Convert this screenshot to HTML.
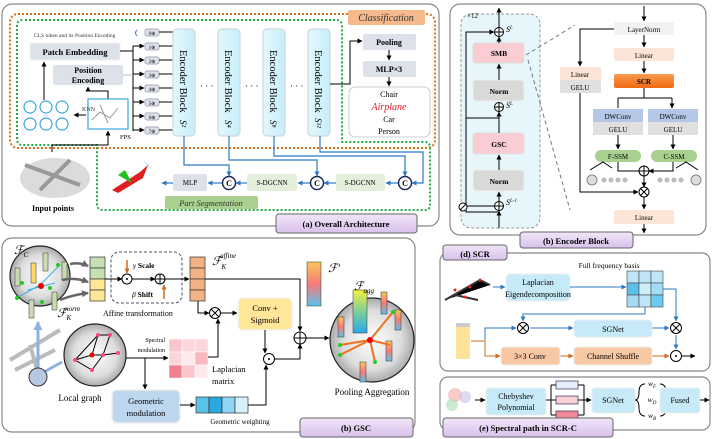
<!DOCTYPE html>
<html><head><meta charset="utf-8"><style>
html,body{margin:0;padding:0;background:#fff}
svg{display:block}
text{font-family:"Liberation Serif",serif}
</style></head><body>
<svg width="713" height="439" viewBox="0 0 713 439" xmlns="http://www.w3.org/2000/svg">
<defs>
<marker id="a" markerUnits="userSpaceOnUse" markerWidth="5" markerHeight="5" refX="4.5" refY="2.5" orient="auto"><path d="M0,0L5,2.5L0,5z" fill="#000"/></marker>
<marker id="ab" markerUnits="userSpaceOnUse" markerWidth="5" markerHeight="5" refX="4.5" refY="2.5" orient="auto"><path d="M0,0L5,2.5L0,5z" fill="#2f78c4"/></marker>
<marker id="ao" markerUnits="userSpaceOnUse" markerWidth="5" markerHeight="5" refX="4.5" refY="2.5" orient="auto"><path d="M0,0L5,2.5L0,5z" fill="#d06a1e"/></marker>
<marker id="ag" markerUnits="userSpaceOnUse" markerWidth="7" markerHeight="7" refX="6" refY="3.5" orient="auto"><path d="M0,0L7,3.5L0,7z" fill="#666"/></marker>
<marker id="abig" markerUnits="userSpaceOnUse" markerWidth="9" markerHeight="9" refX="8" refY="4.5" orient="auto"><path d="M0,0L9,4.5L0,9z" fill="#8fb1e0"/></marker>
<linearGradient id="enc" x1="0" x2="1"><stop offset="0" stop-color="#e4f8fd"/><stop offset="1" stop-color="#c6eefa"/></linearGradient>
<linearGradient id="fp" x1="0" y1="0" x2="0" y2="1"><stop offset="0" stop-color="#f7c65a"/><stop offset=".5" stop-color="#f77a7a"/><stop offset="1" stop-color="#5bc2ea"/></linearGradient>
<linearGradient id="fa" x1="0" y1="0" x2="0" y2="1"><stop offset="0" stop-color="#f5ef40"/><stop offset=".5" stop-color="#7ecf9a"/><stop offset="1" stop-color="#2aa8e8"/></linearGradient>
<linearGradient id="pur" x1="0" y1="0" x2="0" y2="1"><stop offset="0" stop-color="#f1e6f8"/><stop offset="1" stop-color="#d9c0ec"/></linearGradient>
<linearGradient id="scr" x1="0" y1="0" x2="0" y2="1"><stop offset="0" stop-color="#f99a4e"/><stop offset="1" stop-color="#ef6a12"/></linearGradient>
<radialGradient id="ball"><stop offset="0" stop-color="#fff"/><stop offset=".7" stop-color="#ddd"/><stop offset="1" stop-color="#aaa"/></radialGradient>
</defs>

<!-- ===== (a) Overall Architecture ===== -->
<rect x="2" y="4" width="437" height="222" rx="10" fill="#fff" stroke="#888" stroke-width="1.2"/>
<rect x="10" y="14" width="425" height="134" rx="8" fill="none" stroke="#d8701e" stroke-width="2" stroke-dasharray="2,2"/>
<path d="M25,20 H336 Q342,20 342,26 V142 H425 Q430,142 430,148 V205 Q430,210 425,210 H103 Q97,210 97,204 V145 H23 Q17,145 17,139 V26 Q17,20 23,20" fill="none" stroke="#22aa44" stroke-width="2" stroke-dasharray="2,2"/>
<rect x="348" y="10" width="77" height="15" rx="2" fill="#f5b98c"/>
<text x="386" y="21" font-size="10" font-style="italic" text-anchor="middle" fill="#333">Classification</text>
<text x="34" y="37" font-size="5.5" fill="#333">CLS token and its Position Encoding</text>
<rect x="30" y="43" width="90" height="17" rx="2" fill="#dde2ea" stroke="#eee"/>
<text x="75" y="55" font-size="8.5" text-anchor="middle" font-weight="bold">Patch Embedding</text>
<rect x="53" y="65" width="70" height="20" rx="2" fill="#dde2ea"/>
<text x="88" y="73" font-size="8" text-anchor="middle" font-weight="bold">Position</text>
<text x="88" y="83" font-size="8" text-anchor="middle" font-weight="bold">Encoding</text>
<line x1="44" y1="100" x2="44" y2="62" stroke="#000" marker-end="url(#a)"/>
<path d="M108,99 V91 H88 V87" fill="none" stroke="#000" marker-end="url(#a)"/>
<rect x="88" y="99" width="40" height="30" fill="#fff" stroke="#3aa8e0" stroke-width="1.2"/>
<path d="M92,120 L100,112 L110,118 L118,108 M100,105 L108,123" stroke="#999" stroke-width="1" fill="none"/>
<text x="82" y="111" font-size="6" fill="#333">KNN</text>
<line x1="86" y1="115" x2="74" y2="115" stroke="#000" marker-end="url(#a)"/>
<text x="120" y="139" font-size="6.5">FPS</text>
<path d="M52,152 V145 H108 V131" fill="none" stroke="#000" marker-end="url(#a)"/>
<g fill="#fff" stroke="#3aa8e0" stroke-width="1.2"><circle cx="30" cy="107" r="6"/><circle cx="46" cy="107" r="6"/><circle cx="62" cy="107" r="6"/><circle cx="30" cy="124" r="6"/><circle cx="46" cy="124" r="6"/><circle cx="62" cy="124" r="6"/></g>
<text x="46" y="117" font-size="5" text-anchor="middle">···</text>
<!-- tokens -->
<g font-size="5" text-anchor="middle">
<g fill="#dde2ea" stroke="#aab">
<rect x="145" y="29" width="14" height="7" rx="2"/><rect x="145" y="43" width="14" height="7" rx="2"/><rect x="145" y="57" width="14" height="7" rx="2"/><rect x="145" y="71" width="14" height="7" rx="2"/><rect x="145" y="85" width="14" height="7" rx="2"/><rect x="145" y="99" width="14" height="7" rx="2"/><rect x="145" y="113" width="14" height="7" rx="2"/><rect x="145" y="127" width="14" height="7" rx="2"/>
</g>
<text x="152" y="35">0⊕</text><text x="152" y="49">1⊕</text><text x="152" y="63">2⊕</text><text x="152" y="77">3⊕</text><text x="152" y="91">4⊕</text><text x="152" y="105">5⊕</text><text x="152" y="119">6⊕</text><text x="152" y="133">7⊕</text>
</g>
<path d="M137,30 Q134,33 137,36" fill="none" stroke="#3a7ad0"/>
<path d="M120,51 H133 M133,46 V131" stroke="#000" fill="none"/>
<g stroke="#000" marker-end="url(#a)"><line x1="133" y1="46" x2="144" y2="46"/><line x1="133" y1="60" x2="144" y2="60"/><line x1="133" y1="74" x2="144" y2="74"/><line x1="133" y1="88" x2="144" y2="88"/><line x1="133" y1="102" x2="144" y2="102"/><line x1="133" y1="116" x2="144" y2="116"/><line x1="133" y1="130" x2="144" y2="130"/></g>
<line x1="123" y1="75" x2="133" y2="75" stroke="#bbb"/>
<g stroke="#000"><line x1="159" y1="32" x2="173" y2="32"/><line x1="159" y1="46" x2="173" y2="46"/><line x1="159" y1="60" x2="173" y2="60"/><line x1="159" y1="74" x2="173" y2="74"/><line x1="159" y1="88" x2="173" y2="88"/><line x1="159" y1="102" x2="173" y2="102"/><line x1="159" y1="116" x2="173" y2="116"/><line x1="159" y1="130" x2="173" y2="130"/></g>
<!-- encoder blocks -->
<g fill="url(#enc)" stroke="#cfd8dc" stroke-width="1.2">
<rect x="173" y="29" width="22" height="107" rx="4"/><rect x="218" y="29" width="22" height="107" rx="4"/><rect x="263" y="29" width="22" height="107" rx="4"/><rect x="308" y="29" width="22" height="107" rx="4"/>
</g>
<g font-size="10.5">
<text transform="translate(180,50) rotate(90)">Encoder Block</text>
<text transform="translate(225,50) rotate(90)">Encoder Block</text>
<text transform="translate(270,50) rotate(90)">Encoder Block</text>
<text transform="translate(315,50) rotate(90)">Encoder Block</text>
</g>
<g font-size="9" font-style="italic"><text transform="translate(180,120) rotate(90)">S²</text><text transform="translate(225,120) rotate(90)">S⁴</text><text transform="translate(270,120) rotate(90)">S⁸</text><text transform="translate(315,118) rotate(90)">S¹²</text></g>
<g font-size="9"><text x="200" y="89">· · ·</text><text x="245" y="89">· · ·</text><text x="290" y="89">· · ·</text></g>
<path d="M330,84 H350 V41 H362" fill="none" stroke="#000" marker-end="url(#a)"/>
<rect x="363" y="34" width="53" height="16" rx="2" fill="#dde2ea"/>
<text x="389" y="45" font-size="8" text-anchor="middle" font-weight="bold">Pooling</text>
<line x1="389" y1="50" x2="389" y2="60" stroke="#000" marker-end="url(#a)"/>
<rect x="363" y="61" width="53" height="16" rx="2" fill="#dde2ea"/>
<text x="389" y="72" font-size="8" text-anchor="middle" font-weight="bold">MLP×3</text>
<line x1="389" y1="77" x2="389" y2="86" stroke="#000" marker-end="url(#a)"/>
<rect x="349" y="87" width="81" height="50" rx="6" fill="#fff" stroke="#ccc"/>
<g font-size="8" text-anchor="middle"><text x="389" y="97">Chair</text><text x="389" y="110" font-size="10" fill="#e8202a" font-style="italic" font-family="Liberation Sans">Airplane</text><text x="389" y="122">Car</text><text x="389" y="134">Person</text></g>
<!-- segmentation -->
<g fill="none" stroke="#2f78c4" stroke-width="1.2">
<path d="M184,136 V165 H229 V176" marker-end="url(#ab)"/>
<path d="M229,136 V160 H317 V176" marker-end="url(#ab)"/>
<path d="M274,136 V156 H405 V176" marker-end="url(#ab)"/>
<path d="M320,136 V152 H423 V183 H412" marker-end="url(#ab)"/>
<path d="M398,183 H386" marker-end="url(#ab)"/>
<path d="M336,183 H324" marker-end="url(#ab)"/>
<path d="M310,183 H298" marker-end="url(#ab)"/>
<path d="M247,183 H236" marker-end="url(#ab)"/>
<path d="M222,183 H208" marker-end="url(#ab)"/>
<path d="M173,183 H162" marker-end="url(#ab)"/>
</g>
<g fill="#fff" stroke="#1a2a5a" stroke-width="1.5">
<circle cx="229" cy="183" r="6.5"/><circle cx="317" cy="183" r="6.5"/><circle cx="405" cy="183" r="6.5"/>
</g>
<g font-size="8" font-weight="bold" text-anchor="middle"><text x="229" y="186">C</text><text x="317" y="186">C</text><text x="405" y="186">C</text></g>
<rect x="173" y="174" width="34" height="17" rx="2" fill="#dde2ea"/>
<text x="190" y="185" font-size="7" text-anchor="middle">MLP</text>
<rect x="247" y="174" width="50" height="17" rx="2" fill="#e3eedb"/>
<text x="272" y="185" font-size="7" text-anchor="middle">S-DGCNN</text>
<rect x="336" y="174" width="49" height="17" rx="2" fill="#e3eedb"/>
<text x="360" y="185" font-size="7" text-anchor="middle">S-DGCNN</text>
<path d="M112,190 L140,172 L148,165 L143,178 L118,193z" fill="#e02020"/>
<path d="M118,175 L132,183 L125,170z" fill="#20c020"/><path d="M143,160 L152,170 L147,164z" fill="#2030c0"/>
<rect x="165" y="196" width="93" height="13" rx="2" fill="#a9d08e"/>
<text x="211" y="206" font-size="8.5" font-style="italic" text-anchor="middle" fill="#333">Part Segmentation</text>
<ellipse cx="55" cy="178" rx="35" ry="20" fill="#ccc" opacity=".7"/>
<path d="M25,165 L80,185 M40,190 L70,160" stroke="#999" stroke-width="4"/>
<text x="53" y="211" font-size="8" font-weight="bold" text-anchor="middle">Input points</text>
<rect x="276" y="214" width="141" height="19" rx="3" fill="url(#pur)" stroke="#666"/>
<text x="346" y="227" font-size="8.5" font-weight="bold" text-anchor="middle">(a) Overall Architecture</text>

<!-- ===== (b) Encoder Block ===== -->
<rect x="450" y="4" width="256" height="231" rx="10" fill="#fff" stroke="#888" stroke-width="1.2"/>
<rect x="461" y="14" width="79" height="214" rx="10" fill="#e7f6fb" stroke="#999" stroke-dasharray="3,2"/>
<text x="467" y="18" font-size="7">×12</text>
<line x1="499" y1="27" x2="499" y2="8" stroke="#000" marker-end="url(#a)"/>
<g fill="#fff" stroke="#000"><circle cx="499" cy="32" r="4.5"/><circle cx="499" cy="107" r="4.5"/><circle cx="499" cy="206" r="4.5"/></g>
<g stroke="#000"><path d="M494.5,32h9M499,27.5v9M494.5,107h9M499,102.5v9M494.5,206h9M499,201.5v9"/></g>
<g font-size="8" font-style="italic"><text x="506" y="32">S<tspan font-size="5" dy="-3">L</tspan></text><text x="506" y="108">Ŝ<tspan font-size="5" dy="-3">L</tspan></text><text x="506" y="205">S<tspan font-size="5" dy="-3">L-1</tspan></text></g>
<rect x="473" y="43" width="51" height="20" rx="3" fill="#f9cdd2" stroke="#ddd"/>
<text x="499" y="56" font-size="7.5" font-weight="bold" text-anchor="middle">SMB</text>
<rect x="473" y="80" width="51" height="21" rx="3" fill="#d9d9d9" stroke="#eee"/>
<text x="499" y="94" font-size="7.5" font-weight="bold" text-anchor="middle">Norm</text>
<rect x="473" y="133" width="51" height="21" rx="3" fill="#f9cdd2" stroke="#ddd"/>
<text x="499" y="147" font-size="7.5" font-weight="bold" text-anchor="middle">GSC</text>
<rect x="473" y="170" width="51" height="21" rx="3" fill="#d9d9d9" stroke="#eee"/>
<text x="499" y="184" font-size="7.5" font-weight="bold" text-anchor="middle">Norm</text>
<g stroke="#000" fill="none">
<line x1="499" y1="228" x2="499" y2="211" marker-end="url(#a)"/>
<line x1="499" y1="201" x2="499" y2="192" marker-end="url(#a)"/>
<line x1="499" y1="170" x2="499" y2="155" marker-end="url(#a)"/>
<line x1="499" y1="133" x2="499" y2="112" marker-end="url(#a)"/>
<line x1="499" y1="80" x2="499" y2="64" marker-end="url(#a)"/>
<line x1="499" y1="43" x2="499" y2="37" marker-end="url(#a)"/>
<path d="M499,118 H466 V32 H494" marker-end="url(#a)"/>
<path d="M499,212 H466 V117"/>
<path d="M466,206 H494"/>
</g>
<circle cx="463" cy="207" r="4" fill="#fff" stroke="#000"/><line x1="460" y1="210" x2="466" y2="204" stroke="#000"/>
<path d="M526,55 L575,25 M528,60 L570,210" stroke="#777" stroke-dasharray="4,3" fill="none"/>
<line x1="644" y1="6" x2="644" y2="21" stroke="#000" marker-end="url(#a)"/>
<rect x="614" y="22" width="60" height="13" rx="2" fill="#f2f2f2"/>
<text x="644" y="32" font-size="7" text-anchor="middle">LayerNorm</text>
<line x1="644" y1="35" x2="644" y2="47" stroke="#000" marker-end="url(#a)"/>
<rect x="614" y="48" width="60" height="13" rx="2" fill="#fce4d6"/>
<text x="644" y="58" font-size="7" text-anchor="middle">Linear</text>
<line x1="644" y1="61" x2="644" y2="73" stroke="#000" marker-end="url(#a)"/>
<rect x="614" y="74" width="60" height="14" rx="2" fill="url(#scr)"/>
<text x="644" y="84" font-size="7" text-anchor="middle" font-weight="bold">SCR</text>
<path d="M614,29 H580 V66" fill="none" stroke="#000" marker-end="url(#a)"/>
<rect x="560" y="67" width="41" height="13" fill="#fce4d6"/>
<text x="580" y="77" font-size="7" text-anchor="middle">Linear</text>
<rect x="560" y="80" width="41" height="13" fill="#e0e0e0"/>
<text x="580" y="90" font-size="7" text-anchor="middle">GELU</text>
<path d="M580,93 V192 H638" fill="none" stroke="#000" marker-end="url(#a)"/>
<path d="M644,88 V98 H618 M644,98 H672" fill="none" stroke="#000"/>
<path d="M618,98 V108 M672,98 V108" stroke="#000" marker-end="url(#a)"/>
<rect x="593" y="109" width="50" height="13" fill="#b4c7e7"/>
<text x="618" y="119" font-size="7" text-anchor="middle">DWConv</text>
<rect x="593" y="122" width="50" height="13" fill="#e0e0e0"/>
<text x="618" y="132" font-size="7" text-anchor="middle">GELU</text>
<rect x="648" y="109" width="50" height="13" fill="#b4c7e7"/>
<text x="673" y="119" font-size="7" text-anchor="middle">DWConv</text>
<rect x="648" y="122" width="50" height="13" fill="#e0e0e0"/>
<text x="673" y="132" font-size="7" text-anchor="middle">GELU</text>
<line x1="618" y1="135" x2="618" y2="149" stroke="#000" marker-end="url(#a)"/>
<line x1="673" y1="135" x2="673" y2="149" stroke="#000" marker-end="url(#a)"/>
<rect x="595" y="150" width="46" height="12" rx="6" fill="#a9d08e"/>
<text x="618" y="159" font-size="7" text-anchor="middle">F-SSM</text>
<rect x="651" y="150" width="46" height="12" rx="6" fill="#a9d08e"/>
<text x="674" y="159" font-size="7" text-anchor="middle">C-SSM</text>
<path d="M618,162 V171 H639 M673,162 V171 H649" fill="none" stroke="#000" marker-end="url(#a)"/>
<circle cx="644" cy="171" r="5" fill="#fff" stroke="#000"/><path d="M639,171h10M644,166v10" stroke="#000"/>
<line x1="644" y1="176" x2="644" y2="187" stroke="#000" marker-end="url(#a)"/>
<circle cx="644" cy="192" r="5" fill="#fff" stroke="#000"/><path d="M640.5,188.5l7,7M647.5,188.5l-7,7" stroke="#000"/>
<line x1="644" y1="197" x2="644" y2="209" stroke="#000" marker-end="url(#a)"/>
<g fill="#bbb"><circle cx="604" cy="180" r="2.5"/><circle cx="611" cy="180" r="2.5"/><circle cx="618" cy="180" r="2.5"/><circle cx="625" cy="180" r="2.5"/><circle cx="660" cy="180" r="2.5"/><circle cx="667" cy="180" r="2.5"/><circle cx="674" cy="180" r="2.5"/><circle cx="681" cy="180" r="2.5"/></g>
<circle cx="592" cy="180" r="5" fill="#ddd" stroke="#888"/><circle cx="696" cy="180" r="5" fill="#ddd" stroke="#888"/>
<path d="M590,170 L603,162 L612,168 M676,168 L686,162 L698,170" stroke="#000" fill="none"/>
<rect x="614" y="210" width="60" height="14" rx="2" fill="#fce4d6"/>
<text x="644" y="220" font-size="7" text-anchor="middle">Linear</text>
<line x1="644" y1="224" x2="644" y2="233" stroke="#000" marker-end="url(#a)"/>
<rect x="520" y="232" width="113" height="16" rx="3" fill="url(#pur)" stroke="#666"/>
<text x="576" y="244" font-size="8.5" font-weight="bold" text-anchor="middle">(b) Encoder  Block</text>

<!-- ===== GSC ===== -->
<rect x="2" y="238" width="413" height="194" rx="10" fill="#fff" stroke="#888" stroke-width="1.2"/>
<circle cx="40" cy="276" r="30" fill="url(#ball)" stroke="#222" stroke-width="1.2"/>
<g fill="#c9dcb0" stroke="#333" stroke-width=".5"><rect x="15" y="268" width="5" height="18"/><rect x="43" y="253" width="5" height="18"/><rect x="62" y="262" width="5" height="18"/><rect x="29" y="300" width="5" height="18"/><rect x="52" y="292" width="5" height="18"/></g>
<rect x="31" y="263" width="5" height="20" fill="#ffd966" stroke="#333" stroke-width=".5"/>
<path d="M20,296 L40,285 L60,265 M28,290 L55,283" stroke="#3aaee8" fill="none"/>
<circle cx="41" cy="286" r="3" fill="#e00"/>
<g fill="#2c2"><circle cx="22" cy="283" r="2"/><circle cx="58" cy="265" r="2"/><circle cx="50" cy="288" r="2"/><circle cx="17" cy="298" r="2"/><circle cx="42" cy="302" r="2"/></g>
<text x="14" y="254" font-size="12" font-style="italic">ℱ<tspan font-size="7" dy="3">C</tspan></text>
<text x="57" y="317" font-size="12" font-style="italic">ℱ<tspan font-size="7" dy="3">K</tspan><tspan font-size="7" dx="-6" dy="-9">norm</tspan></text>
<path d="M70,264 Q80,262 88,266" stroke="#666" stroke-width="2.5" fill="none" marker-end="url(#ag)"/>
<path d="M62,280 Q75,277 88,282" stroke="#666" stroke-width="2.5" fill="none" marker-end="url(#ag)"/>
<path d="M60,300 Q72,295 88,293" stroke="#666" stroke-width="2.5" fill="none" marker-end="url(#ag)"/>
<g stroke="#333" stroke-width=".7"><rect x="90" y="257" width="15" height="11" fill="#c5e0b4"/><rect x="90" y="268" width="15" height="11" fill="#c5e0b4"/><rect x="90" y="279" width="15" height="11" fill="#ffe699"/><rect x="90" y="290" width="15" height="11" fill="#ffe699"/></g>
<rect x="111" y="252" width="71" height="51" rx="8" fill="none" stroke="#44546a" stroke-dasharray="3,2"/>
<line x1="105" y1="279" x2="122" y2="279" stroke="#000" marker-end="url(#a)"/>
<circle cx="127" cy="279" r="5" fill="#fff" stroke="#000"/><circle cx="127" cy="279" r="1" fill="#000"/>
<line x1="132" y1="279" x2="155" y2="279" stroke="#000" marker-end="url(#a)"/>
<circle cx="160" cy="279" r="5" fill="#fff" stroke="#000"/><path d="M155,279h10M160,274v10" stroke="#000"/>
<line x1="165" y1="279" x2="189" y2="279" stroke="#000" marker-end="url(#a)"/>
<line x1="127" y1="260" x2="127" y2="273" stroke="#d06a1e" stroke-width="1.5" marker-end="url(#ao)"/>
<line x1="164" y1="299" x2="164" y2="285" stroke="#d06a1e" stroke-width="1.5" marker-end="url(#ao)"/>
<text x="133" y="268" font-size="7.5" font-weight="bold"><tspan font-style="italic" font-weight="normal">γ</tspan> Scale</text>
<text x="132" y="297" font-size="7.5" font-weight="bold"><tspan font-style="italic" font-weight="normal">β</tspan> Shift</text>
<text x="103" y="316" font-size="8">Affine transformation</text>
<g stroke="#333" stroke-width=".7" fill="#f4b183"><rect x="190" y="257" width="15" height="11"/><rect x="190" y="268" width="15" height="11"/><rect x="190" y="279" width="15" height="11"/><rect x="190" y="290" width="15" height="11"/></g>
<text x="212" y="265" font-size="12" font-style="italic">ℱ<tspan font-size="7" dy="4">K</tspan><tspan font-size="7" dx="-6" dy="-11">affine</tspan></text>
<path d="M205,279 H300 V331" fill="none" stroke="#000" marker-end="url(#a)"/>
<path d="M198,301 V313 H209" fill="none" stroke="#000" marker-end="url(#a)"/>
<circle cx="215" cy="313" r="5.5" fill="#fff" stroke="#000"/><path d="M211,309l8,8M219,309l-8,8" stroke="#000"/>
<line x1="221" y1="313" x2="237" y2="313" stroke="#000" marker-end="url(#a)"/>
<rect x="238" y="298" width="54" height="32" rx="5" fill="#ffe699" stroke="#f2f2f2" stroke-width="1.5"/>
<text x="265" y="311" font-size="8.5" text-anchor="middle">Conv  +</text>
<text x="265" y="323" font-size="8.5" text-anchor="middle">Sigmoid</text>
<rect x="307" y="262" width="14" height="44" fill="url(#fp)" stroke="#333" stroke-width=".5"/>
<text x="328" y="272" font-size="12" font-style="italic">ℱ′</text>
<circle cx="300" cy="338" r="6" fill="#fff" stroke="#000"/><path d="M294,338h12M300,332v12" stroke="#000"/>
<line x1="306" y1="338" x2="329" y2="338" stroke="#000" marker-end="url(#a)"/>
<line x1="265" y1="330" x2="265" y2="353" stroke="#000" marker-end="url(#a)"/>
<circle cx="269" cy="359" r="5.5" fill="#fff" stroke="#000"/><circle cx="269" cy="359" r="1" fill="#000"/>
<path d="M275,359 H300 V344" fill="none" stroke="#000" marker-end="url(#a)"/>
<circle cx="372" cy="340" r="42" fill="url(#ball)" stroke="#222" stroke-width="1.2"/>
<rect x="353" y="290" width="14" height="43" fill="url(#fa)" stroke="#333" stroke-width=".5"/>
<g fill="url(#fp)" stroke="#333" stroke-width=".5"><rect x="338" y="317" width="6" height="20"/><rect x="381" y="292" width="6" height="22"/><rect x="395" y="310" width="6" height="20"/><rect x="386" y="341" width="6" height="20"/><rect x="360" y="362" width="6" height="20"/></g>
<g stroke="#f07020" stroke-width="2"><line x1="370" y1="340" x2="340" y2="345"/><line x1="370" y1="340" x2="393" y2="312"/><line x1="370" y1="340" x2="340" y2="355"/><line x1="370" y1="340" x2="375" y2="362"/><line x1="370" y1="340" x2="390" y2="345"/></g>
<circle cx="370" cy="340" r="3" fill="#e00"/>
<g fill="#2c2"><circle cx="340" cy="345" r="2"/><circle cx="393" cy="312" r="2"/><circle cx="340" cy="355" r="2"/><circle cx="375" cy="362" r="2"/></g>
<text x="354" y="290" font-size="12" font-style="italic">ℱ<tspan font-size="7" dy="3">agg</tspan></text>
<text x="372" y="395" font-size="9" text-anchor="middle">Pooling Aggregation</text>
<!-- local graph -->
<path d="M10,360 L60,330 M15,370 L55,350 M30,345 L40,380" stroke="#bbb" stroke-width="4"/>
<line x1="38" y1="368" x2="38" y2="322" stroke="#8fb1e0" stroke-width="3" marker-end="url(#abig)"/>
<line x1="44" y1="372" x2="62" y2="362" stroke="#8fb1e0" stroke-width="3"/>
<circle cx="38" cy="377" r="9" fill="#b8c8e0" stroke="#333"/>
<circle cx="95" cy="355" r="31" fill="url(#ball)" stroke="#222" stroke-width="1.2"/>
<path d="M75,360 L92,355 L103,355 L110,335 L98,335 L75,360 L92,370 L103,355 M98,335 L92,355 M103,355 L118,353" stroke="#000" fill="none"/>
<g fill="#f48"><circle cx="92" cy="355" r="2.5" fill="#e00"/><circle cx="75" cy="360" r="2"/><circle cx="103" cy="355" r="2"/><circle cx="110" cy="335" r="2"/><circle cx="98" cy="335" r="2"/><circle cx="92" cy="370" r="2"/><circle cx="118" cy="353" r="2"/></g>
<text x="80" y="401" font-size="9" text-anchor="middle">Local graph</text>
<path d="M126,358 H168" fill="none" stroke="#000" marker-end="url(#a)"/>
<line x1="145" y1="358" x2="145" y2="389" stroke="#000" marker-end="url(#a)"/>
<text x="165" y="342" font-size="6" text-anchor="end">Spectral</text>
<text x="165" y="352" font-size="6" text-anchor="end">modulation</text>
<g stroke="#fff" stroke-width=".5"><rect x="169" y="339" width="13" height="13" fill="#f9c6cc"/><rect x="182" y="339" width="13" height="13" fill="#fbd7dc"/><rect x="195" y="339" width="13" height="13" fill="#fbd7dc"/><rect x="169" y="352" width="13" height="13" fill="#fbd7dc"/><rect x="182" y="352" width="13" height="13" fill="#fde8eb"/><rect x="195" y="352" width="13" height="13" fill="#f9b8c0"/><rect x="169" y="365" width="13" height="13" fill="#f08090"/><rect x="182" y="365" width="13" height="13" fill="#f9c6cc"/><rect x="195" y="365" width="13" height="13" fill="#fde8eb"/></g>
<path d="M208,357 H218 V319" fill="none" stroke="#000" marker-end="url(#a)"/>
<text x="212" y="372" font-size="8.5">Laplacian</text>
<text x="212" y="384" font-size="8.5">matrix</text>
<rect x="112" y="390" width="68" height="33" rx="5" fill="#bdd7ee" stroke="#eee" stroke-width="1.5"/>
<text x="146" y="404" font-size="8.5" text-anchor="middle">Geometric</text>
<text x="146" y="416" font-size="8.5" text-anchor="middle">modulation</text>
<line x1="180" y1="405" x2="195" y2="405" stroke="#000" marker-end="url(#a)"/>
<g stroke="#333" stroke-width=".7"><rect x="196" y="397" width="13" height="16" fill="#5bc2ea"/><rect x="209" y="397" width="13" height="16" fill="#2aa8e0"/><rect x="222" y="397" width="13" height="16" fill="#8fd6f3"/><rect x="235" y="397" width="13" height="16" fill="#d5f0fb"/></g>
<path d="M248,405 H266 V365" fill="none" stroke="#000" marker-end="url(#a)"/>
<text x="240" y="424" font-size="7" text-anchor="middle">Geometric weighting</text>
<rect x="300" y="418" width="113" height="19" rx="3" fill="url(#pur)" stroke="#666"/>
<text x="356" y="431" font-size="8.5" font-weight="bold" text-anchor="middle">(b) GSC</text>

<!-- ===== (d) SCR ===== -->
<rect x="440" y="253" width="270" height="118" rx="8" fill="#fff" stroke="#888" stroke-width="1.2"/>
<rect x="443" y="245" width="64" height="15" rx="3" fill="url(#pur)" stroke="#666"/>
<text x="475" y="257" font-size="8.5" font-weight="bold" text-anchor="middle">(d) SCR</text>
<path d="M445,300 L480,280 L490,285 M455,295 L478,300" stroke="#333" stroke-width="2"/>
<g fill="#e22"><circle cx="455" cy="290" r="1.5"/><circle cx="470" cy="287" r="1.5"/><circle cx="480" cy="280" r="1.5"/><circle cx="465" cy="297" r="1.5"/></g>
<line x1="493" y1="287" x2="505" y2="287" stroke="#2f78c4" marker-end="url(#ab)"/>
<rect x="506" y="274" width="64" height="27" rx="4" fill="#c6eaf8" stroke="#eee"/>
<text x="538" y="285" font-size="8" text-anchor="middle">Laplacian</text>
<text x="538" y="297" font-size="8" text-anchor="middle">Eigendecomposition</text>
<line x1="570" y1="287" x2="626" y2="287" stroke="#2f78c4" marker-end="url(#ab)"/>
<text x="609" y="268" font-size="7.5" text-anchor="middle">Full frequency basis</text>
<g stroke="#444" stroke-width=".6"><rect x="627" y="271" width="12" height="12" fill="#bfe6f8"/><rect x="639" y="271" width="12" height="12" fill="#bfe6f8"/><rect x="651" y="271" width="12" height="12" fill="#bfe6f8"/><rect x="627" y="283" width="12" height="12" fill="#5bbfee"/><rect x="639" y="283" width="12" height="12" fill="#cdeefb"/><rect x="651" y="283" width="12" height="12" fill="#a5dcf5"/><rect x="627" y="295" width="12" height="12" fill="#a5dcf5"/><rect x="639" y="295" width="12" height="12" fill="#bfe6f8"/><rect x="651" y="295" width="12" height="12" fill="#6ccaf0"/></g>
<g fill="none" stroke="#2f78c4">
<path d="M645,307 V314 H523 V321" marker-end="url(#ab)"/>
<path d="M663,289 H676 V321" marker-end="url(#ab)"/>
<path d="M485,340 V328 H516" marker-end="url(#ab)"/>
<line x1="530" y1="328" x2="573" y2="328" marker-end="url(#ab)"/>
<line x1="652" y1="328" x2="669" y2="328" marker-end="url(#ab)"/>
<line x1="676" y1="335" x2="676" y2="349" marker-end="url(#ab)"/>
</g>
<circle cx="523" cy="328" r="5.5" fill="#fff" stroke="#000"/><path d="M519,324l8,8M527,324l-8,8" stroke="#000"/>
<circle cx="676" cy="328" r="5.5" fill="#fff" stroke="#000"/><path d="M672,324l8,8M680,324l-8,8" stroke="#000"/>
<rect x="574" y="320" width="78" height="17" rx="3" fill="#c6eaf8" stroke="#eee"/>
<text x="613" y="332" font-size="8" text-anchor="middle">SGNet</text>
<rect x="456" y="325" width="14" height="34" fill="#fde39a"/>
<rect x="456" y="323" width="14" height="4" fill="#ccc"/>
<g fill="none" stroke="#d06a1e"><path d="M471,341 H485 V356 H500" marker-end="url(#ao)"/><line x1="560" y1="356" x2="573" y2="356" marker-end="url(#ao)"/><line x1="652" y1="356" x2="669" y2="356" marker-end="url(#ao)"/></g>
<rect x="501" y="347" width="59" height="18" rx="3" fill="#f8c8a4" stroke="#eee"/>
<text x="530" y="359" font-size="8" text-anchor="middle">3×3 Conv</text>
<rect x="574" y="347" width="78" height="18" rx="3" fill="#f8c8a4" stroke="#eee"/>
<text x="613" y="359" font-size="8" text-anchor="middle">Channel Shuffle</text>
<circle cx="676" cy="356" r="5.5" fill="#fff" stroke="#000"/><circle cx="676" cy="356" r="1" fill="#000"/>
<line x1="682" y1="356" x2="695" y2="356" stroke="#000" marker-end="url(#a)"/>

<!-- ===== (e) ===== -->
<rect x="440" y="377" width="270" height="53" rx="8" fill="#fff" stroke="#888" stroke-width="1.2"/>
<circle cx="455" cy="395" r="7" fill="#f4a6a6" opacity=".6"/><circle cx="465" cy="397" r="6" fill="#c8c0e8" opacity=".6"/><circle cx="452" cy="405" r="6" fill="#a8e0b0" opacity=".6"/>
<line x1="475" y1="400" x2="485" y2="400" stroke="#000" marker-end="url(#a)"/>
<rect x="486" y="388" width="60" height="27" rx="3" fill="#c6eaf8" stroke="#eee"/>
<text x="516" y="399" font-size="8" text-anchor="middle">Chebyshev</text>
<text x="516" y="410" font-size="8" text-anchor="middle">Polynomial</text>
<path d="M546,400 H551 M551,385 V415 M551,385 H556 M551,400 H556 M551,415 H556 M584,385 V415 M578,385 H584 M578,400 H584 M578,415 H584" stroke="#000" fill="none"/>
<g stroke="#335" stroke-width=".7"><rect x="556" y="381" width="22" height="8" fill="#e8ecf8"/><rect x="556" y="396" width="22" height="8" fill="#f6d0d4"/><rect x="556" y="411" width="22" height="8" fill="#f08a96"/></g>
<line x1="584" y1="400" x2="591" y2="400" stroke="#000" marker-end="url(#a)"/>
<rect x="592" y="388" width="43" height="25" rx="3" fill="#c6eaf8" stroke="#eee"/>
<text x="613" y="403" font-size="8" text-anchor="middle">SGNet</text>
<path d="M645,384 Q639,384 639,392 Q639,400 635,400 Q639,400 639,408 Q639,416 645,416" fill="none" stroke="#000"/>
<path d="M660,384 Q666,384 666,392 Q666,400 670,400 Q666,400 666,408 Q666,416 660,416" fill="none" stroke="#000"/>
<g font-size="7.5" font-style="italic" text-anchor="middle"><text x="652" y="386">w<tspan font-size="5" dy="2">F</tspan></text><text x="652" y="402">w<tspan font-size="5" dy="2">D</tspan></text><text x="652" y="418">w<tspan font-size="5" dy="2">B</tspan></text></g>
<rect x="660" y="388" width="40" height="25" rx="3" fill="#c6eaf8" stroke="#eee"/>
<text x="680" y="403" font-size="8" text-anchor="middle">Fused</text>
<line x1="700" y1="400" x2="709" y2="400" stroke="#000" marker-end="url(#a)"/>
<rect x="443" y="418" width="170" height="19" rx="3" fill="url(#pur)" stroke="#666"/>
<text x="528" y="431" font-size="8.5" font-weight="bold" text-anchor="middle">(e) Spectral path in SCR-C</text>
</svg>
</body></html>
